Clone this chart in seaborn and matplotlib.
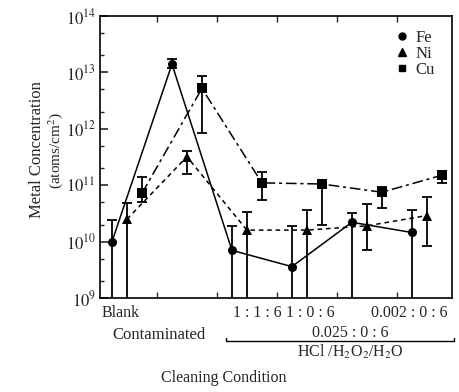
import numpy as np
import pandas as pd
import matplotlib
matplotlib.use("Agg")
import matplotlib.pyplot as plt
from matplotlib.lines import Line2D
from matplotlib.ticker import LogLocator, FixedLocator, NullFormatter
import seaborn as sns

# ---- data ----
conditions = ["Blank", "Contaminated", "1:1:6", "1:0:6", "0.025:0:6", "0.002:0:6"]
metals = ["Fe", "Ni", "Cu"]

fe_val = [1.0e10, 1.4e13, 7.0e9, 3.6e9, 2.2e10, 1.45e10]
fe_hi = [2.4e10, 1.7e13, 1.9e10, 1.9e10, 3.2e10, 3.7e10]
fe_lo = [8e8, 1.2e13, 8e8, 8e8, 8e8, 8e8]

ni_val = [2.5e10, 3.2e11, 1.6e10, 1.6e10, 1.9e10, 2.9e10]
ni_hi = [4.8e10, 4.1e11, 3.3e10, 3.6e10, 4.6e10, 6.1e10]
ni_lo = [8e8, 1.6e11, 8e8, 8e8, 7.2e9, 8.5e9]

cu_val = [7.2e10, 5.2e12, 1.1e11, 1.05e11, 7.5e10, 1.5e11]
cu_hi = [1.4e11, 8.5e12, 1.7e11, 1.1e11, 9.2e10, 1.7e11]
cu_lo = [5.0e10, 8.5e11, 5.4e10, 2.0e10, 3.9e10, 1.1e11]

ytick_vals = [1e9, 1e10, 1e11, 1e12, 1e13, 1e14]
ytick_labels = [r"$10^{9}$", r"$10^{10}$", r"$10^{11}$", r"$10^{12}$", r"$10^{13}$", r"$10^{14}$"]

# ---- style ----
sns.set_theme(style="ticks")
plt.rcParams["font.family"] = ["Liberation Serif", "DejaVu Serif"]
plt.rcParams["mathtext.fontset"] = "stix"

offsets = {"Fe": -0.25, "Ni": 0.0, "Cu": 0.25}
series = {"Fe": (fe_val, fe_lo, fe_hi), "Ni": (ni_val, ni_lo, ni_hi), "Cu": (cu_val, cu_lo, cu_hi)}
rows = []
for m in metals:
    v, lo, hi = series[m]
    for i, c in enumerate(conditions):
        rows.append({"metal": m, "condition": c, "pos": i + offsets[m],
                     "value": v[i], "lo": lo[i], "hi": hi[i]})
df = pd.DataFrame(rows)

fig = plt.figure(figsize=(4.6, 3.92), dpi=100)
ax = fig.add_axes([100 / 460, 1 - 298 / 392, 352 / 460, 282 / 392])

sns.lineplot(data=df, x="pos", y="value", hue="metal", style="metal",
             palette={"Fe": "black", "Ni": "black", "Cu": "black"},
             dashes={"Fe": "", "Ni": (3, 2.5), "Cu": (7, 2.5, 2, 2.5)},
             markers={"Fe": "o", "Ni": "^", "Cu": "s"},
             markersize=6.5, markeredgewidth=0, linewidth=1.1,
             sort=False, legend=False, ax=ax)

for m in metals:
    d = df[df.metal == m]
    ax.errorbar(d["pos"], d["value"],
                yerr=[d["value"] - d["lo"], d["hi"] - d["value"]],
                fmt="none", ecolor="black", elinewidth=1.3, capsize=3.5, capthick=1.3)

ax.set_yscale("log")
ax.set_ylim(1e9, 1e14)
ax.set_xlim(-0.45, 5.42)
ax.yaxis.set_major_locator(FixedLocator(ytick_vals))
ax.set_yticklabels(ytick_labels, fontsize=12)
ax.yaxis.set_minor_locator(LogLocator(base=10, subs=(2.0, 5.0)))
ax.yaxis.set_minor_formatter(NullFormatter())
ax.tick_params(axis="y", which="major", direction="in", length=6, width=1.2, right=False, pad=3)
ax.tick_params(axis="y", which="minor", direction="in", length=3, width=1, right=False)

ax.set_xticks([0.5, 1.5, 2.5, 3.5, 4.5])
ax.set_xticklabels([])
ax.tick_params(axis="x", which="major", direction="in", length=4, width=1, top=True, bottom=True)
ax.set_xlabel("")
ax.set_ylabel("")
for s in ax.spines.values():
    s.set_color("black")
    s.set_linewidth(1.2)

# legend
handles = [Line2D([], [], marker="o", ls="", color="black", markersize=5),
           Line2D([], [], marker="^", ls="", color="black", markersize=5.5),
           Line2D([], [], marker="s", ls="", color="black", markersize=4.5)]
ax.legend(handles, metals, loc="upper right", frameon=False, fontsize=12,
          handlelength=0.8, handletextpad=0.4, labelspacing=0.0,
          bbox_to_anchor=(0.98, 0.985), borderaxespad=0.2)

# x category labels (pixel-based placement in figure coords)
def ftext(px, py, s, size=11.5, **kw):
    fig.text(px / 460, 1 - py / 392, s, ha="center", va="center", fontsize=size, **kw)

ftext(121, 313, "Blank")
ftext(257, 313, "1 : 1 : 6")
ftext(310, 313, "1 : 0 : 6")
ftext(409, 313, "0.002 : 0 : 6")
ftext(159, 335, "Contaminated", size=12)
ftext(350, 333, "0.025 : 0 : 6")
ftext(350, 352, r"HCl /H$_2$O$_2$/H$_2$O")
ftext(224, 378, "Cleaning Condition")

# bracket
bx0, bx1, by = 226 / 460, 454 / 460, 1 - 341 / 392
fig.add_artist(Line2D([bx0, bx0, bx1, bx1], [by + 0.008, by, by, by + 0.008],
                      color="black", linewidth=1.0))

# y label
fig.text(37 / 460, 1 - 150 / 392, "Metal Concentration", rotation=90,
         ha="center", va="center", fontsize=12)
fig.text(56 / 460, 1 - 150 / 392, r"(atoms/cm$^2$)", rotation=90,
         ha="center", va="center", fontsize=11)

fig.savefig("out.png", dpi=100)
